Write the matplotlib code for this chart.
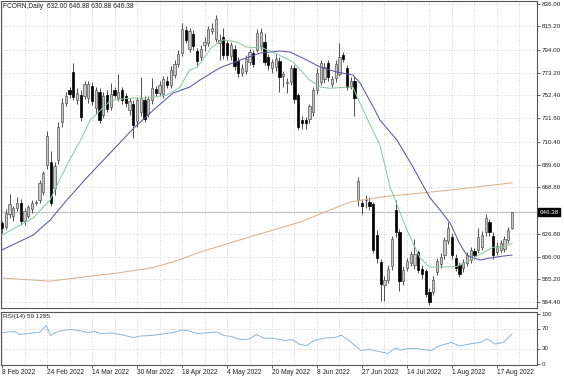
import matplotlib
matplotlib.use("Agg")
import matplotlib.pyplot as plt

plt.rcParams['font.family'] = ['Liberation Sans', 'DejaVu Sans']

# daily candles, one per trading day starting 8 Feb 2022
opens = [636.5, 633, 645, 643, 650, 655, 638, 643, 649, 655,
         657, 665, 689, 692, 668, 694, 728, 746, 757, 774,
         748, 753, 752, 750, 761, 741, 756, 735, 753, 742,
         757, 750, 757, 752, 739, 745, 729, 737, 748, 736,
         748, 758, 755, 754, 766, 762, 771, 781, 791, 812,
         795, 808, 793, 787, 798, 800, 811, 804, 800, 806,
         800, 788, 795, 784, 773, 775, 783, 791, 794, 797,
         801, 787, 777, 778, 784, 770, 764, 765, 777, 753,
         730, 730, 731, 737, 757, 765, 767, 782, 763, 768,
         772, 789, 777, 761, 766, 657, 655, 657, 656, 654,
         626, 601, 580, 585, 597, 648, 628, 584, 596, 600,
         598, 610, 595, 593, 574, 574, 592, 599, 607, 620,
         624, 605, 598, 596, 600, 603, 611, 612, 615, 628,
         637, 625, 610, 612, 613, 621, 632.00]
highs = [638, 649, 663, 652, 660, 658, 650, 653, 657, 657,
         676, 684, 720, 702, 692, 728, 750, 756, 760, 782,
         759, 757, 766, 766, 765, 760, 759, 756, 757, 764,
         760, 772, 760, 755, 750, 748, 751, 769, 752, 752,
         768, 761, 766, 770, 770, 779, 785, 794, 818, 816,
         814, 812, 796, 798, 806, 816, 818, 826, 808, 814,
         803, 801, 798, 787, 781, 789, 795, 794, 813, 814,
         809, 790, 786, 790, 787, 775, 768, 780, 780, 755,
         734, 733, 745, 760, 777, 785, 782, 785, 770, 785,
         800, 792, 780, 769, 769, 678, 658, 662, 660, 656,
         630, 604, 588, 598, 625, 657, 631, 597, 605, 611,
         622, 612, 598, 595, 577, 588, 605, 609, 624, 637,
         627, 608, 601, 604, 610, 615, 614, 632, 629, 645,
         640, 628, 619, 621, 625, 633, 646.88]
lows = [627, 631, 641, 638, 647, 635, 635, 641, 646, 653,
        655, 662, 686, 652, 662, 690, 724, 743, 750, 748,
        745, 729, 749, 746, 744, 736, 727, 732, 737, 739,
        750, 747, 745, 742, 735, 714, 724, 734, 728, 733,
        745, 752, 752, 750, 759, 759, 768, 778, 788, 800,
        792, 794, 778, 784, 793, 797, 808, 801, 785, 786,
        785, 785, 776, 769, 770, 772, 780, 778, 792, 794,
        780, 776, 773, 775, 756, 760, 755, 762, 746, 721,
        722, 722, 727, 734, 754, 762, 764, 766, 760, 765,
        770, 783, 757, 758, 734, 652, 645, 650, 648, 609,
        600, 566, 566, 582, 594, 624, 575, 580, 593, 597,
        595, 591, 586, 569, 562, 571, 589, 596, 604, 617,
        604, 593, 587, 592, 597, 600, 604, 609, 612, 625,
        625, 604, 607, 609, 610, 618, 630.88]
closes = [632, 646, 654, 650, 655, 638, 647, 651, 655, 656,
          673, 682, 716, 655, 688, 724, 746, 752, 754, 751,
          755, 733, 763, 763, 747, 757, 730, 752, 740, 754,
          753, 756, 748, 746, 747, 726, 748, 750, 731, 749,
          759, 755, 762, 767, 762, 776, 781, 790, 813, 803,
          811, 797, 784, 795, 801, 813, 814, 822, 803, 789,
          789, 798, 779, 773, 777, 786, 792, 781, 809, 810,
          783, 780, 783, 786, 769, 772, 765, 777, 749, 724,
          727, 727, 743, 757, 773, 782, 778, 769, 767, 781,
          787, 786, 760, 766, 750, 675, 652, 658, 652, 612,
          605, 581, 585, 595, 622, 628, 584, 594, 602, 608,
          608, 594, 590, 572, 565, 585, 602, 606, 621, 632,
          607, 596, 590, 601, 607, 612, 607, 624, 626, 641,
          628, 607, 616, 618, 622, 630, 646.38]

date_labels = ["8 Feb 2022", "24 Feb 2022", "14 Mar 2022", "30 Mar 2022",
               "18 Apr 2022", "4 May 2022", "20 May 2022", "8 Jun 2022",
               "27 Jun 2022", "14 Jul 2022", "1 Aug 2022", "17 Aug 2022"]
label_bars = [0, 12, 24, 36, 48, 60, 72, 84, 96, 108, 120, 132]
price_ticks = [564.40, 585.20, 606.00, 626.80, 668.80, 689.60, 710.40,
               731.60, 752.40, 773.20, 794.00, 815.20, 836.00]

# moving averages (bar index, price)
fast_bar = [0, 8.3, 11, 12.8, 15, 18, 21, 23.5, 29, 34, 38.7, 44, 47.5, 50,
            52, 56, 59, 62.7, 65, 69.6, 74, 77.6, 82, 85, 87.5, 92, 93.6,
            94.7, 98, 100.8, 103.5, 105.6, 108, 111.5, 114, 117.6, 121.3,
            124.8, 128, 131, 133.6, 136]
fast_ma = [625.5, 641, 651, 657.4, 673, 693.7, 712, 730, 748, 750, 750,
           752.8, 760, 775.5, 778, 796.5, 803, 801, 796.5, 795.5, 789,
           782.8, 766.5, 760, 759, 760, 760, 751, 727, 707, 669, 651, 630,
           604.6, 596.4, 596.4, 597, 602.8, 609, 614.5, 614.5, 618]
mid_bar = [0, 8.3, 12.8, 17.3, 22.7, 28.8, 35, 41.3, 45.6, 50, 52.8, 58,
           63.5, 68.8, 74, 76.8, 81.3, 84.8, 89.3, 93.6, 95.5, 99, 100.8,
           105.3, 109.6, 114, 116.8, 119.5, 122, 124, 127.5, 130, 133.6, 136]
mid_ma = [612, 625.5, 639, 657.4, 678, 700, 722.3, 742, 754.6, 760, 766.5,
          777.4, 784.6, 791, 792.8, 792, 784.6, 778.3, 773.7, 771, 763.7,
          742, 730, 712, 687.4, 660, 648.3, 636.5, 618, 607, 602.8, 604.6,
          606.4, 607.3]
slow_bar = [0, 12.8, 21.6, 30.7, 39.5, 45.6, 52.8, 66, 79.5, 92.8, 100.8,
            119.5, 136]
slow_ma = [586.4, 583.6, 587.3, 591, 595.5, 601, 610, 623.7, 637.4, 655.5,
           660, 666.4, 673]

rsi_bar = [0, 3.3, 4.8, 8.1, 10, 11.8, 12.9, 14.9, 17.8, 20.6, 22.6, 24.7,
           26.4, 29.3, 32.2, 35.1, 37, 39.9, 42.8, 45.7, 48.1, 49.5, 52,
           54.3, 57.2, 59.2, 61.1, 63.5, 65.9, 67.8, 69.7, 72.6, 75.5, 77.4,
           79.4, 81.3, 83.2, 86.1, 89, 90.4, 92.4, 93.8, 95.7, 97.7, 100.5,
           102.9, 104.9, 106.3, 108.3, 110.2, 112.1, 114.5, 116.4, 119.8,
           122.2, 124.6, 127.5, 129.4, 131.5, 133.7, 136]
rsi_val = [62, 64, 58, 61, 62, 76, 56, 64, 68, 66, 62, 64, 60, 61, 57, 52,
           55, 56, 59, 62, 67, 66, 60, 61, 63, 56, 54, 48, 49, 58, 51, 50,
           46, 48, 38, 36, 46, 51, 52, 57, 47, 38, 26, 28, 24, 20, 31, 27,
           30, 30, 28, 26, 35, 42, 35, 39, 42, 49, 39, 42, 59.13]

fig = plt.figure(figsize=(5.64, 3.76), dpi=100)
ax = fig.add_axes([1 / 564, 1 - 308 / 376, 536 / 564, 307 / 376])
ax2 = fig.add_axes([1 / 564, 1 - 365 / 376, 536 / 564, 53 / 376])

grid_kw = dict(color='#c8c8c8', lw=0.6, ls=(0, (1, 2)), zorder=0)
for a in (ax, ax2):
    for k in range(0, 143, 6):
        a.axvline(k, **grid_kw)
    a.set_xlim(-0.27, 142.67)
    for s in a.spines.values():
        s.set_color('#555555')
        s.set_linewidth(0.8)

for p in price_ticks:
    ax.axhline(p, **grid_kw)

# current price line
ax.axhline(closes[-1], color='#c4c4c4', lw=0.9, zorder=1)

# candles
idx = list(range(len(closes)))
ax.vlines(idx, lows, highs, color='#333333', lw=0.6, zorder=2)
bottoms = [min(o, c) for o, c in zip(opens, closes)]
heights = [max(abs(c - o), 0.9) for o, c in zip(opens, closes)]
fills = ['#c8c8c8' if c >= o else '#000000' for o, c in zip(opens, closes)]
edges = ['#555555' if c >= o else '#000000' for o, c in zip(opens, closes)]
ax.bar(idx, heights, bottom=bottoms, width=0.62, color=fills,
       edgecolor=edges, linewidth=0.5, zorder=3)

ax.plot(slow_bar, slow_ma, color='#d9b38c', lw=0.75, zorder=4)
ax.plot(mid_bar, mid_ma, color='#5858a8', lw=0.75, zorder=4)
ax.plot(fast_bar, fast_ma, color='#8fc9a3', lw=0.75, zorder=4)

ax.set_ylim(559.2, 838.3)
ax.set_yticks(price_ticks)
ax.set_yticklabels(['%.2f' % p for p in price_ticks])
ax.set_xticks([])
ax.tick_params(axis='y', left=False, right=True, labelleft=False,
               labelright=True, labelsize=4.5, length=2, width=0.5, pad=1.5,
               colors='#222222')

ax.text(1.004, closes[-1], '%.2f' % closes[-1], transform=ax.get_yaxis_transform(),
        ha='left', va='center', color='white', fontsize=4.5,
        bbox=dict(facecolor='black', edgecolor='black', pad=0.8))

ax.text(0.004, 0.992, 'FCORN,Daily  %.2f %.2f %.2f %.2f'
        % (opens[-1], highs[-1], lows[-1], closes[-1]),
        transform=ax.transAxes, ha='left', va='top', fontsize=4.8,
        color='#222222')

# RSI panel
ax2.axhline(30, **grid_kw)
ax2.axhline(70, **grid_kw)
ax2.plot(rsi_bar, rsi_val, color='#8ab6d6', lw=0.7)
ax2.set_ylim(-3, 103)
ax2.set_yticks([0, 30, 70, 100])
ax2.tick_params(axis='y', left=False, right=True, labelleft=False,
                labelright=True, labelsize=4.5, length=2, width=0.5, pad=1.5,
                colors='#222222')
ax2.set_xticks(label_bars)
ax2.set_xticklabels(date_labels)
for t in ax2.get_xticklabels():
    t.set_ha('left')
ax2.tick_params(axis='x', labelsize=4.8, length=2, width=0.5, pad=1,
                colors='#222222')
ax2.text(0.004, 0.96, 'RSI(14) %.4f' % 59.1285, transform=ax2.transAxes,
         ha='left', va='top', fontsize=4.6, color='#222222')

fig.savefig('out.png', dpi=100)
